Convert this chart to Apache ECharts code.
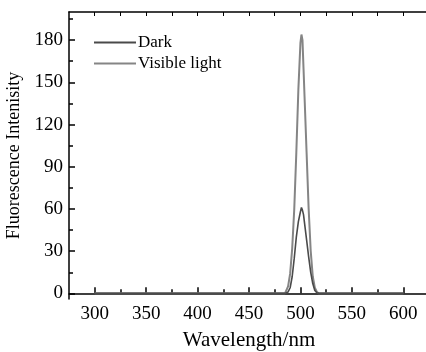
<!DOCTYPE html>
<html>
<head>
<meta charset="utf-8">
<script src="https://cdn.jsdelivr.net/npm/echarts@6/dist/echarts.min.js"></script>
<style>
    html, body { margin: 0; padding: 0; background: #fff; }
    #chart { width: 426px; height: 352px; }
</style>
</head>
<body>
<div id="chart"></div>
<script>
// 波长 (nm)
const wavelengths = [300, 485, 486, 488, 490, 492, 494, 496, 498, 500, 501, 502, 503, 504, 506, 508, 510, 512, 514, 516, 518, 600];
// 荧光强度
const darkValues    = [0, 0, 0, 1, 4, 12, 25, 40, 51, 58, 61, 59, 56, 50, 38, 26, 15, 7, 2, 0.5, 0, 0];
const visibleValues = [0, 0, 1, 5, 14, 32, 60, 100, 145, 178, 184, 180, 160, 140, 100, 60, 30, 12, 4, 1, 0, 0];

const seriesNames = ['Dark', 'Visible light'];
const xLabels = [300, 350, 400, 450, 500, 550, 600];
const xMinor = [325, 375, 425, 475, 525, 575];
const yLabels = [0, 30, 60, 90, 120, 150, 180];
const yMinor = [15, 45, 75, 105, 135, 165, 195];

const FONT = '"Liberation Serif", "Times New Roman", serif';

const chart = echarts.init(document.getElementById('chart'));

function pairs(ys) {
    return wavelengths.map((x, i) => [x, ys[i]]);
}

const xBase = {
    type: 'value',
    min: 275,
    max: 625,
    splitLine: { show: false }
};
const yBase = {
    type: 'value',
    min: -4,
    max: 200,
    splitLine: { show: false }
};

chart.setOption({
    animation: false,
    backgroundColor: '#fff',
    grid: { left: 69, top: 12, right: -3, bottom: 53, outerBoundsMode: 'none', containLabel: false },
    legend: {
        orient: 'vertical',
        left: 89,
        top: 29,
        icon: 'rect',
        itemWidth: 42,
        itemHeight: 2,
        itemGap: 4,
        data: seriesNames,
        textStyle: { fontFamily: FONT, fontSize: 17, color: '#000', padding: [0, 0, 0, -3] }
    },
    xAxis: [
        Object.assign({}, xBase, {
            position: 'bottom',
            name: 'Wavelength/nm',
            nameLocation: 'middle',
            nameGap: 31,
            nameTextStyle: { fontFamily: FONT, fontSize: 21, color: '#000' },
            axisLine: { lineStyle: { color: '#000', width: 1.5 } },
            axisTick: { inside: true, length: 6, customValues: xLabels, lineStyle: { color: '#000', width: 1.5 } },
            axisLabel: { customValues: xLabels, fontFamily: FONT, fontSize: 19, color: '#000', margin: 6 }
        }),
        Object.assign({}, xBase, {
            position: 'bottom',
            axisLine: { show: false },
            axisTick: { inside: true, length: 4, customValues: xMinor, lineStyle: { color: '#000', width: 1.5 } },
            axisLabel: { show: false }
        }),
        Object.assign({}, xBase, {
            position: 'top',
            axisLine: { lineStyle: { color: '#000', width: 1.5 } },
            axisTick: { inside: true, length: 4, customValues: xLabels.concat(xMinor), lineStyle: { color: '#000', width: 1 } },
            axisLabel: { show: false }
        })
    ],
    yAxis: [
        Object.assign({}, yBase, {
            position: 'left',
            name: 'Fluorescence Intenisity',
            nameLocation: 'middle',
            nameGap: 38,
            nameTextStyle: { fontFamily: FONT, fontSize: 18, color: '#000' },
            axisLine: { show: true, lineStyle: { color: '#000', width: 1.5 } },
            axisTick: { show: true, inside: true, length: 6, customValues: yLabels, lineStyle: { color: '#000', width: 1.5 } },
            axisLabel: { customValues: yLabels, fontFamily: FONT, fontSize: 19, color: '#000', margin: 6 }
        }),
        Object.assign({}, yBase, {
            position: 'left',
            axisLine: { show: false },
            axisTick: { show: true, inside: true, length: 4, customValues: yMinor, lineStyle: { color: '#000', width: 1.5 } },
            axisLabel: { show: false }
        })
    ],
    series: [
        {
            name: 'Dark',
            type: 'line',
            data: pairs(darkValues),
            showSymbol: false,
            symbol: 'none',
            lineStyle: { color: '#4a4a4a', width: 1.6 },
            itemStyle: { color: '#4a4a4a' },
            z: 3
        },
        {
            name: 'Visible light',
            type: 'line',
            data: pairs(visibleValues),
            showSymbol: false,
            symbol: 'none',
            lineStyle: { color: '#858585', width: 2 },
            itemStyle: { color: '#858585' },
            z: 2
        }
    ]
});
</script>
</body>
</html>
